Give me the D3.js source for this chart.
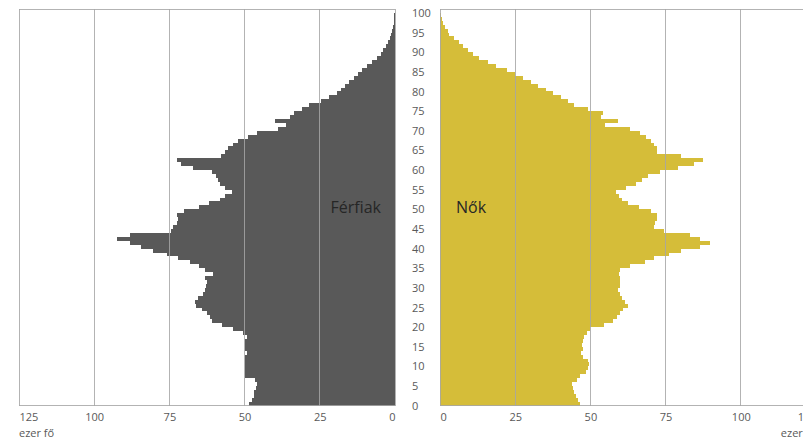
<!DOCTYPE html>
<html>
<head>
<meta charset="utf-8">
<script src="https://cdn.jsdelivr.net/npm/d3@7/dist/d3.min.js"></script>
<style>
body { margin: 0; background: #ffffff; }
svg { display: block; font-family: "Open Sans", sans-serif; }
</style>
</head>
<body>
<div id="pyramid"></div>
<script>
// thousand people per single year of age, index = age (0..100)
var ferfiak = [48.5, 47.7, 47.0, 46.8, 46.3, 45.9, 46.5, 49.9, 49.9, 49.9,
               49.9, 50.0, 49.9, 49.1, 49.9, 49.9, 49.9, 49.3, 50.4, 53.8,
               57.6, 60.8, 61.5, 62.4, 64.3, 66.0, 66.5, 65.4, 63.7, 63.2,
               62.9, 62.6, 63.2, 60.4, 63.0, 65.0, 68.2, 72.1, 75.9, 80.4,
               84.3, 88.1, 92.3, 88.1, 74.5, 73.7, 72.6, 72.0, 72.6, 70.0,
               65.0, 62.0, 58.2, 56.5, 54.3, 56.5, 58.2, 58.8, 59.5, 61.0,
               67.1, 71.0, 72.6, 58.0, 56.5, 55.4, 53.8, 52.1, 49.0, 46.0,
               38.8, 36.3, 40.0, 35.0, 33.6, 31.0, 28.5, 24.7, 22.0, 19.4,
               18.0, 16.5, 15.2, 13.7, 12.2, 10.9, 9.2, 7.5, 6.1, 4.8,
               3.9, 3.0, 2.2, 1.7, 1.2, 0.9, 0.65, 0.45, 0.3, 0.2,
               0.1];
var nok = [46.6, 46.0, 45.2, 44.6, 44.3, 44.0, 45.5, 46.5, 48.5, 49.2,
           49.7, 49.2, 47.5, 47.0, 47.5, 47.2, 47.6, 48.0, 48.8, 49.9,
           54.5, 57.6, 59.0, 59.9, 61.0, 62.6, 61.5, 60.4, 59.9, 59.3,
           59.9, 59.9, 59.9, 59.5, 60.0, 63.0, 68.0, 71.0, 76.0, 80.0,
           86.5, 89.8, 86.5, 83.0, 74.5, 71.2, 71.5, 72.3, 72.3, 70.0,
           66.0, 62.5, 60.5, 59.5, 58.5, 62.0, 65.0, 67.0, 69.0, 73.0,
           79.0, 84.5, 87.4, 80.0, 72.3, 72.1, 71.0, 70.0, 68.4, 66.5,
           63.2, 54.8, 59.3, 53.5, 54.1, 49.1, 44.7, 42.5, 40.2, 37.5,
           35.3, 32.5, 30.3, 27.7, 24.9, 22.3, 18.6, 15.9, 12.9, 10.9,
           9.2, 7.5, 6.2, 4.8, 3.1, 2.5, 1.8, 1.1, 0.7, 0.3,
           0.1];
var ageTicks = [0, 5, 10, 15, 20, 25, 30, 35, 40, 45, 50, 55, 60, 65, 70, 75, 80, 85, 90, 95, 100];
var valueTicks = [0, 25, 50, 75, 100, 125];
var maleLabel = "Férfiak";
var femaleLabel = "Nők";
var unitLabel = "ezer fő";

function pyramid() {
    var w = 803;
    var h = 440;
    var top = 9;
    var bottom = 405.7;
    var gridColor = "#a6a6a6";
    var textColor = "#595959";

    var svg = d3.select("#pyramid")
                .append("svg")
                .attr("width", w)
                .attr("height", h);

    var yScale = d3.scaleLinear()
                .domain([0, ferfiak.length])                           //one band per year of age
                .range([bottom, top]);

    var xLeft = d3.scaleLinear()
                .domain([0, 125])
                .range([395, 19]);                                     //men grow to the left

    var xRight = d3.scaleLinear()
                .domain([0, 125])
                .range([440, 816]);                                    //women grow to the right, 125 is cut off

    // bars
    svg.append("g")
        .selectAll("rect")
        .data(ferfiak)
        .enter()
        .append("rect")
        .attr("x", function(d) { return xLeft(d); })
        .attr("y", function(d, i) { return yScale(i + 1); })
        .attr("width", function(d) { return xLeft(0) - xLeft(d); })
        .attr("height", function(d, i) { return yScale(i) - yScale(i + 1); })
        .attr("fill", "#595959")
        .attr("shape-rendering", "crispEdges");

    svg.append("g")
        .selectAll("rect")
        .data(nok)
        .enter()
        .append("rect")
        .attr("x", xRight(0))
        .attr("y", function(d, i) { return yScale(i + 1); })
        .attr("width", function(d) { return xRight(d) - xRight(0); })
        .attr("height", function(d, i) { return yScale(i) - yScale(i + 1); })
        .attr("fill", "#d5bd39")
        .attr("shape-rendering", "crispEdges");

    // gridlines sit on top of the bars
    [xLeft, xRight].forEach(function(scale) {
        var grid = svg.append("g")
                    .attr("stroke", gridColor)
                    .attr("stroke-opacity", 0.85)
                    .attr("shape-rendering", "crispEdges");

        grid.selectAll("line.v")
            .data(valueTicks)
            .enter()
            .append("line")
            .attr("x1", function(d) { return scale(d); })
            .attr("x2", function(d) { return scale(d); })
            .attr("y1", top)
            .attr("y2", bottom);

        grid.selectAll("line.h")
            .data([top, bottom])
            .enter()
            .append("line")
            .attr("x1", scale(0))
            .attr("x2", scale(125))
            .attr("y1", function(d) { return d; })
            .attr("y2", function(d) { return d; });
    });

    // value axes
    var leftAxis = svg.append("g")
        .attr("transform", "translate(0," + bottom + ")")
        .call(d3.axisBottom(xLeft).tickValues(valueTicks).tickSize(0).tickPadding(8));

    var rightAxis = svg.append("g")
        .attr("transform", "translate(0," + bottom + ")")
        .call(d3.axisBottom(xRight).tickValues(valueTicks).tickSize(0).tickPadding(8));

    [leftAxis, rightAxis].forEach(function(ax) {
        ax.select(".domain").remove();
        ax.selectAll("text")
            .attr("fill", textColor)
            .style("font-size", "11px")
            .style("font-family", "'Open Sans', sans-serif");
    });

    leftAxis.selectAll("text")                                          //edge labels are pulled inside the plot
        .attr("text-anchor", function(d) { return d == 125 ? "start" : (d == 0 ? "end" : "middle"); });
    rightAxis.selectAll("text")
        .attr("text-anchor", function(d) { return d == 0 ? "start" : (d == 125 ? "end" : "middle"); });

    // age axis between the two panels
    var ageAxis = svg.append("g")
        .attr("transform", "translate(412,0)")
        .call(d3.axisRight(yScale).tickValues(ageTicks).tickSize(0).tickPadding(0));

    ageAxis.select(".domain").remove();
    ageAxis.selectAll("text")
        .attr("fill", textColor)
        .style("font-size", "11px")
        .style("font-family", "'Open Sans', sans-serif");

    // unit labels
    svg.append("text")
        .attr("x", 19)
        .attr("y", 437)
        .attr("fill", textColor)
        .style("font-size", "11px")
        .text(unitLabel);

    svg.append("text")
        .attr("x", 816)
        .attr("y", 437)
        .attr("text-anchor", "end")
        .attr("fill", textColor)
        .style("font-size", "11px")
        .text(unitLabel);

    // series names
    svg.append("text")
        .attr("x", 381)
        .attr("y", 213)
        .attr("text-anchor", "end")
        .attr("fill", "#262626")
        .style("font-size", "16px")
        .text(maleLabel);

    svg.append("text")
        .attr("x", 456)
        .attr("y", 213)
        .attr("fill", "#262626")
        .style("font-size", "16px")
        .text(femaleLabel);
}

pyramid();
</script>
</body>
</html>
